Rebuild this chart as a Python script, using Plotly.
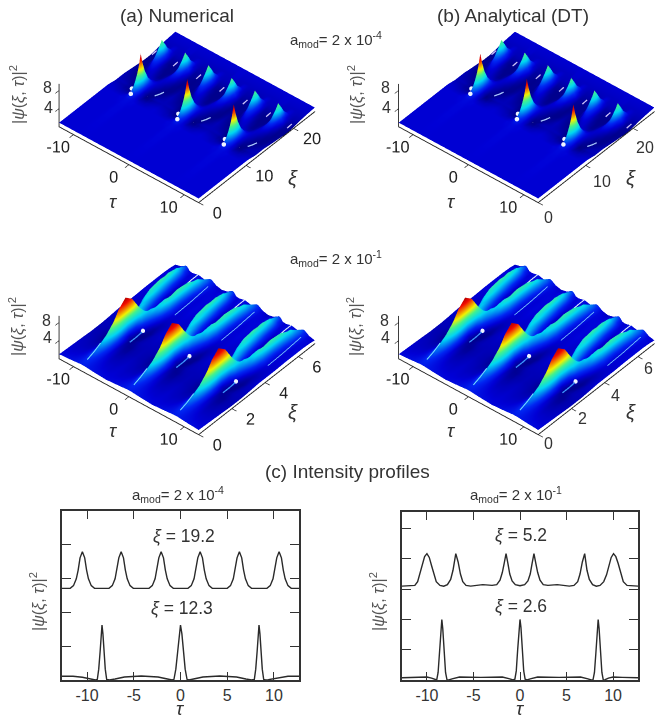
import plotly.graph_objects as go

W, H = 657, 719

# ---------- data ----------
lattice_centres = [-8.4, 0.0, 8.4]
cell_d = [0, .2, .4, .7, 1.1, 1.6, 1.85, 2.1, 2.35, 2.6, 3.2, 4.2]

xi_top = [0, 8, 9.5, 10.3, 10.9, 11.4, 11.9, 12.3, 12.7, 13.2, 13.8, 14.5, 15.3, 16.2, 17.2, 18, 18.6, 19.2, 19.8, 20.4, 21.2, 22.5, 24.5]
cell_top = [
    [.9, .9, .9, .9, .9, .9, .9, .9, .9, .9, .9, .9],
    [1.0, 1.0, 1.0, .95, .9, .9, .9, .9, .9, .9, .9, .9],
    [1.1, 1.1, 1.05, 1, 1, .9, .9, .9, .9, .9, .9, .9],
    [1.6, 1.5, 1.3, 1, .8, .7, .7, .7, .7, .7, .8, .9],
    [2.6, 2.3, 1.7, .9, .5, .5, .5, .5, .6, .6, .7, .8],
    [4.2, 3.5, 2.3, .9, .3, .3, .3, .4, .4, .5, .6, .7],
    [6.4, 5, 2.9, .8, .1, .1, .2, .3, .3, .4, .5, .6],
    [8.8, 6.6, 3.3, .7, 0, .1, .2, .3, .4, .5, .6, .6],
    [6.4, 5, 2.9, .9, .1, .1, .1, .2, .3, .4, .5, .6],
    [4.2, 3.5, 2.4, 1, .3, .1, .1, .1, .2, .3, .4, .6],
    [2.4, 2.1, 1.7, 1.1, .5, .2, .1, .1, .1, .2, .3, .6],
    [1.2, 1.1, 1, 1, .7, .4, .2, .1, .1, .1, .2, .5],
    [.5, .5, .6, .7, .8, .6, .4, .3, .2, .1, .1, .4],
    [.2, .2, .3, .5, .8, .9, .8, .6, .4, .2, .1, .3],
    [.1, .1, .2, .3, .7, 1.3, 1.4, 1.3, 1, .5, .1, .2],
    [.1, .1, .1, .2, .5, 1.6, 2.1, 2.4, 1.9, 1, .2, .1],
    [.1, .1, .1, .2, .4, 1.8, 2.9, 3.6, 2.8, 1.4, .2, .1],
    [.1, .1, .1, .1, .3, 1.9, 3.7, 4.8, 3.7, 1.9, .3, .1],
    [.2, .2, .2, .2, .3, 1.5, 2.8, 3.5, 2.8, 1.4, .3, .2],
    [.4, .4, .4, .4, .4, 1, 1.6, 2.1, 1.6, .9, .4, .3],
    [.6, .6, .6, .6, .6, .7, .9, 1, .9, .7, .5, .5],
    [.8, .8, .8, .7, .7, .7, .7, .7, .7, .7, .7, .7],
    [.9, .9, .9, .9, .9, .9, .9, .9, .9, .9, .9, .9],
]

xi_bot = [0, .5, 1, 1.5, 1.9, 2.2, 2.6, 3, 3.3, 3.6, 3.9, 4.2, 4.6, 5.2, 5.8, 6.3, 6.7, 7]
cell_bot = [
    [1.4, 1.4, 1.4, 1.35, 1.3, 1.25, 1.2, 1.2, 1.15, 1.15, 1.1, 1.0],
    [1.8, 1.75, 1.6, 1.4, 1.2, 1.05, 1, .95, .9, .9, .85, .9],
    [2.5, 2.35, 2.05, 1.6, 1.1, .85, .75, .7, .7, .7, .7, .8],
    [3.9, 3.5, 2.9, 1.9, .9, .6, .5, .5, .5, .5, .6, .7],
    [5.6, 5, 3.8, 2, .6, .35, .3, .3, .3, .4, .5, .6],
    [7.4, 6.2, 4, 1.6, .4, .2, .2, .2, .25, .35, .5, .6],
    [8.8, 6.4, 3.2, .7, .1, .15, .25, .35, .4, .5, .6, .6],
    [7.4, 6, 3.8, 1.6, .3, .1, .1, .15, .25, .4, .6, .7],
    [5.2, 4.8, 4.1, 3, 1.5, .3, .2, .15, .2, .3, .6, .8],
    [3.2, 3.3, 3.3, 3.2, 2.3, 1, .5, .3, .3, .4, .6, .9],
    [1.8, 2, 2.4, 3.1, 3.1, 1.9, 1.2, .8, .5, .5, .6, .9],
    [1, 1.2, 1.6, 2.6, 3.4, 3, 2.1, 1.3, .9, .7, .7, .9],
    [.5, .6, 1, 1.8, 3.5, 3.9, 3, 2, 1.4, 1, .8, .9],
    [.5, .5, .6, .9, 2.6, 4.3, 3.6, 2.1, 1.3, 1, .9, 1],
    [.9, .85, .7, .7, 1.6, 4, 3.9, 2.6, 1.6, 1.2, .9, 1],
    [1.1, 1, .9, .8, 1.2, 3, 3.5, 3.1, 2.2, 1.5, 1, 1],
    [1.2, 1.15, 1.05, .95, .9, 1.6, 2.3, 2.5, 2.2, 1.7, 1.1, .9],
    [1.2, 1.15, 1.1, 1, .9, 1, 1.4, 1.7, 1.7, 1.5, 1, .7],
]

# bright glints seen on the surfaces: (tau offset from a lattice centre, xi, z)
glint_top_dots = [(0, 10.2, 1.7), (-1.35, 12, .5)]
glint_top_arc = [(2.0, 12.9, .35), (2.3, 13.6, .35), (2.5, 14.3, .35)]
glint_top_mid_tau = [-12.2, -8.4, -4.2, 0, 4.2, 8.4, 12.2]
glint_top_mid_xi = [19.1, 19.6, 20.1]
glint_top_mid_z = [.5, .55, .6]
glint_bot_dots = [(1.37, 3.18, .75)]
glint_bot_streak = [(1.37, 2.4, .45), (1.37, 2.8, .45), (1.37, 3.18, .6)]
glint_bot_foot = [(0, .3, 1.75), (0, .7, 2.3), (0, 1.1, 3.1)]
glint_bot_far = [(0, 6.2, 1.25), (0, 6.6, 1.35), (0, 7, 1.35)]
glint_bot_edge = [(2.9, 4.6, 1.15), (2.9, 5.5, 1.3), (2.9, 6.6, 1.7)]

tau_l_up = [-12.7,-11.8,-11.45,-11.15,-10.95,-10.75,-10.5,-10.25,-10.05,-9.85,-9.55,-9.2,-7.65,-7.3,-7.0,-6.8,-6.6,-6.35,-6.1,-5.9,-5.7,-5.4,-5.05,-3.37,-3.02,-2.72,-2.52,-2.32,-2.07,-1.82,-1.62,-1.42,-1.12,-.77,.8,1.15,1.45,1.65,1.85,2.1,2.35,2.55,2.75,3.05,3.4,5,5.35,5.65,5.85,6.05,6.3,6.55,6.75,6.95,7.25,7.6,9.25,9.6,9.9,10.1,10.3,10.55,10.8,11,11.2,11.5,11.85,12.7]
val_l_up = [13.5,13.5,13.9,14.9,16.2,18,18.9,18,16.2,14.9,13.9,13.5,13.5,13.9,14.9,16.2,18,18.9,18,16.2,14.9,13.9,13.5,13.5,13.9,14.9,16.2,18,18.9,18,16.2,14.9,13.9,13.5,13.5,13.9,14.9,16.2,18,18.9,18,16.2,14.9,13.9,13.5,13.5,13.9,14.9,16.2,18,18.9,18,16.2,14.9,13.9,13.5,13.5,13.9,14.9,16.2,18,18.9,18,16.2,14.9,13.9,13.5,13.5]
tau_l_lo = [-12.7,-11.5,-10.5,-9.8,-9.4,-9.1,-8.9,-8.75,-8.6,-8.5,-8.4,-8.3,-8.2,-8.05,-7.9,-7.6,-7,-6,-4.2,-2.4,-1.4,-.9,-.7,-.5,-.3,-.15,0,.15,.3,.5,.7,.9,1.4,2.4,4.2,6,7,7.6,7.9,8.05,8.2,8.3,8.4,8.5,8.6,8.75,8.9,9.1,9.4,9.8,10.5,11.5,12.7]
val_l_lo = [.55,.55,.4,.15,.05,0,.1,1.6,4.2,6.8,8.1,6.8,4.2,1.6,.1,0,.15,.45,.6,.45,.15,0,.1,1.6,4.2,6.8,8.1,6.8,4.2,1.6,.1,0,.15,.45,.6,.45,.15,0,.1,1.6,4.2,6.8,8.1,6.8,4.2,1.6,.1,0,.05,.15,.4,.55,.55]

tau_r_up = [-12.7,-11.8,-11.3,-11,-10.75,-10.5,-10.25,-10,-9.75,-9.5,-9.25,-9,-8.6,-8.2,-7.8,-7.45,-7.2,-6.9,-6.65,-6.4,-6.15,-5.8,-5.3,-4,-3,-2.5,-2.15,-1.9,-1.7,-1.5,-1.3,-1.1,-.85,-.5,0,.5,.85,1.1,1.3,1.5,1.7,1.9,2.15,2.5,3,4,5.3,5.8,6.2,6.45,6.7,6.95,7.2,7.45,7.8,8.2,8.6,9,9.3,9.55,9.8,10.05,10.3,10.55,10.8,11.1,11.5,12.7]
val_r_up = [12.4,12.4,12.5,13,14.2,15.4,16.3,16.7,16.2,15.1,13.9,13,12.5,12.4,12.6,13.3,14.5,16.7,15.6,14,13,12.5,12.4,12.6,12.5,12.6,13.2,14.2,15.4,16.7,15.4,14,13.1,12.6,12.45,12.6,13.1,14,15.4,16.7,15.4,14.2,13.2,12.6,12.5,12.6,12.4,12.5,13,14,15.6,16.7,14.5,13.3,12.6,12.4,12.5,13,13.9,15.1,16.2,16.7,16.3,15.4,14.2,13,12.5,12.4]
tau_r_lo = [-12.7,-11,-10,-9.5,-9.15,-8.95,-8.8,-8.65,-8.5,-8.4,-8.3,-8.15,-8,-7.85,-7.65,-7.3,-6.5,-4.2,-1.9,-1.1,-.75,-.55,-.4,-.25,-.1,0,.1,.25,.4,.55,.75,1.1,1.9,4.2,6.5,7.3,7.65,7.85,8,8.15,8.3,8.4,8.5,8.65,8.8,8.95,9.15,9.5,10,11,12.7]
val_r_lo = [.3,.35,.4,.25,.05,0,1,3.5,6.8,8,6.8,3.5,1,.05,0,.15,.4,.35,.4,.15,0,.1,1.2,4,7,8,7,4,1.2,.1,0,.15,.4,.35,.4,.15,0,.05,1,3.5,6.8,8,6.8,3.5,1,0,.05,.25,.4,.35,.3]

tick_tau3d = [-10, 0, 10]
tick_xi_top = [0, 10, 20]
tick_xi_bot = [0, 2, 4, 6]
tick_z = [4, 8]
tick_tau2d = [-10, -5, 0, 5, 10]
tick_tau2d_text = ["-10", "-5", "0", "5", "10"]
tick_tau3d_text = ["-10", "0", "10"]
labels = {"a": "(a) Numerical", "b": "(b) Analytical (DT)", "c": "(c) Intensity profiles"}
ylab = "|<i>ψ</i>(<i>ξ</i>, <i>τ</i>)|<sup>2</sup>"

# ---------- lattice -> grid ----------
def grid(cell):
    taus = sorted({round(c + s * d, 3) for c in lattice_centres for d in cell_d for s in (-1, 1)})
    rows = []
    for r in cell:
        row = []
        for t in taus:
            c = min(lattice_centres, key=lambda q: abs(t - q))
            row.append(r[cell_d.index(round(abs(round(t - c, 3)), 3))])
        rows.append(row)
    return taus, rows

FONT = "Liberation Sans"
fig = go.Figure()
E = 1.18
LIFT = 0.18
SCALE = 1.69
JET = [[0, "rgb(0,0,140)"], [.1, "rgb(0,0,225)"], [.18, "rgb(0,40,255)"], [.36, "rgb(0,225,255)"],
       [.5, "rgb(70,255,150)"], [.63, "rgb(255,255,0)"], [.85, "rgb(255,10,0)"], [1, "rgb(170,0,0)"]]

def scene(dom, xi_max, xi_ticks, hs=0.0, zmax=9.4):
    ax = dict(showbackground=False, showgrid=False, zeroline=False, showspikes=False, showline=True,
              linecolor="#222", linewidth=2, ticks="outside", tickcolor="#222", ticklen=6, tickwidth=1.5,
              tickfont=dict(family=FONT, size=14, color="#222"), title=dict(text=""), tickangle=0)
    cx, cy = -0.768 * hs, -0.64 * hs
    return dict(domain=dict(x=[dom[0] / W, dom[1] / W], y=[1 - dom[3] / H, 1 - dom[2] / H]),
                xaxis=dict(ax, range=[-12.6, 12.6], tickvals=tick_tau3d, ticktext=tick_tau3d_text),
                yaxis=dict(ax, range=[0, xi_max], tickvals=xi_ticks, showticklabels=(hs == 0)),
                zaxis=dict(ax, range=[0, zmax], tickvals=tick_z, showticklabels=False),
                aspectmode="manual", aspectratio=dict(x=SCALE, y=SCALE, z=0.31 * SCALE),
                camera=dict(eye=dict(x=0.485 * E + cx, y=-0.582 * E + cy, z=0.652 * E - LIFT),
                            up=dict(x=0, y=0, z=1), center=dict(x=cx, y=cy, z=-LIFT),
                            projection=dict(type="orthographic")),
                bgcolor="rgba(0,0,0,0)")

def polyline(pts, centres=lattice_centres):
    xs, ys, zs = [], [], []
    for c in centres:
        for d, xi, z in pts:
            xs.append(c + d); ys.append(xi); zs.append(z)
        xs.append(None); ys.append(None); zs.append(None)
    return xs, ys, zs

def add_glints(name, dots, lines):
    xs, ys, zs = polyline(dots)
    fig.add_scatter3d(x=xs, y=ys, z=zs, scene=name, mode="markers", hoverinfo="skip",
                      marker=dict(size=2.6, color="rgb(240,245,255)", line=dict(width=0)))
    for pts, col, width in lines:
        xs, ys, zs = pts
        fig.add_scatter3d(x=xs, y=ys, z=zs, scene=name, mode="lines", hoverinfo="skip",
                          line=dict(color=col, width=width))

def top_lines():
    mx, my, mz = [], [], []
    for m in glint_top_mid_tau:
        mx += [m] * 3 + [None]; my += glint_top_mid_xi + [None]; mz += glint_top_mid_z + [None]
    return [(polyline(glint_top_arc), "rgb(170,200,255)", 2.5), ((mx, my, mz), "rgb(205,195,250)", 2.5)]

def bot_lines():
    return [(polyline(glint_bot_streak), "rgb(60,150,255)", 2.5), (polyline(glint_bot_foot), "rgb(120,225,255)", 2),
            (polyline(glint_bot_far), "rgb(235,245,255)", 2), (polyline(glint_bot_edge), "rgb(130,215,255)", 1.5)]

HS = 0.21
panels = [("scene", cell_top, xi_top, (33.5, 339.5, 4.5, 219.5), 24.5, tick_xi_top, 0),
          ("scene2", cell_top, xi_top, (351, 657, 4.5, 219.5), 24.5, tick_xi_top, HS),
          ("scene3", cell_bot, xi_bot, (33.5, 339.5, 237, 452), 7, tick_xi_bot, 0),
          ("scene4", cell_bot, xi_bot, (351, 657, 237, 452), 7, tick_xi_bot, HS)]
layout_scenes = {}
for name, cell, xi, dom, xmax, ticks, hs in panels:
    taus, z = grid(cell)
    fig.add_surface(x=taus, y=xi, z=z, scene=name, colorscale=JET, cmin=0, cmax=9, showscale=False,
                    lighting=dict(ambient=.95, diffuse=.35, specular=.3, roughness=.3, fresnel=.1),
                    lightposition=dict(x=-30000, y=-60000, z=90000))
    if cell is cell_top:
        add_glints(name, glint_top_dots, top_lines())
    else:
        add_glints(name, glint_bot_dots, bot_lines())
    layout_scenes[name] = scene(dom, xmax, ticks, hs)
fig.update_layout(**layout_scenes)

# ---------- 2-D profiles ----------
for xa, ya, xs, ys in [("x", "y", tau_l_up, val_l_up), ("x", "y", tau_l_lo, val_l_lo),
                       ("x2", "y2", tau_r_up, val_r_up), ("x2", "y2", tau_r_lo, val_r_lo)]:
    fig.add_scatter(x=xs, y=ys, xaxis=xa, yaxis=ya, mode="lines", showlegend=False,
                    line=dict(color="#2a2a2a", width=1.4))

def x2d(dom, anchor):
    return dict(domain=[dom[0] / W, dom[1] / W], range=[-12.68, 12.68], tickvals=tick_tau2d, ticktext=tick_tau2d_text,
                ticks="inside", ticklen=8, anchor=anchor,
                tickwidth=1.3, tickcolor="#333", showline=True, linewidth=1.6, linecolor="#333", mirror="ticks",
                showgrid=False, zeroline=False, tickfont=dict(family=FONT, size=16, color="#333"))

def y2d(dom, top, dt, anchor):
    return dict(domain=[1 - dom[1] / H, 1 - dom[0] / H], range=[0, top], dtick=dt, tick0=0, ticks="inside", ticklen=9,
                anchor=anchor,
                tickwidth=1.3, tickcolor="#333", showline=True, linewidth=1.6, linecolor="#333", mirror="ticks",
                showgrid=False, zeroline=False, showticklabels=False)

fig.update_layout(xaxis=x2d((62, 299), "y"), yaxis=y2d((511, 680), 24.9, 5, "x"),
                  xaxis2=x2d((402, 638), "y2"), yaxis2=y2d((512, 680), 22.2, 4, "x2"))

# ---------- text ----------
def note(x, y, text, size=15, angle=0, color="#333"):
    fig.add_annotation(x=x / W, y=1 - y / H, xref="paper", yref="paper", text=text, showarrow=False, textangle=angle,
                       font=dict(family=FONT, size=size, color=color), xanchor="center", yanchor="middle")

note(177, 16, labels["a"], 19)
note(513, 16, labels["b"], 19)
note(347, 471, labels["c"], 19)
amod4 = "a<sub>mod</sub>= 2 x 10<sup>-4</sup>"
amod1 = "a<sub>mod</sub>= 2 x 10<sup>-1</sup>"
note(336, 40, amod4, 15)
note(336, 258, amod1, 15)
note(178, 494, amod4, 15)
note(516, 494, amod1, 15)
note(184, 536, "<i>ξ</i> = 19.2", 17.5)
note(182, 608, "<i>ξ</i> = 12.3", 17.5)
note(521, 535, "<i>ξ</i> = 5.2", 17.5)
note(521, 606, "<i>ξ</i> = 2.6", 17.5)
note(37, 602, ylab, 16, -90, "#555")
note(377, 602, ylab, 16, -90, "#555")
note(180, 708, "<i>τ</i>", 19)
note(520, 708, "<i>τ</i>", 19)
for dx in (0, 338):
    note(17 + dx, 95, ylab, 16, -90, "#555")
    note(17 + dx, 327, ylab, 16, -90, "#555")
    note(113 + dx, 202, "<i>τ</i>", 19)
    note(113 + dx, 430, "<i>τ</i>", 19)
    note(293 + dx, 178, "<i>ξ</i>", 20)
    note(293 + dx, 412, "<i>ξ</i>", 20)
    note(47 + dx, 87, "8", 16)
    note(48 + dx, 107, "4", 16)
    note(46 + dx, 320, "8", 16)
    note(47 + dx, 337, "4", 16)
for x, y, t in [(548, 217, "0"), (602, 182, "10"), (645, 147, "20"),
                (548, 443, "0"), (582, 418, "2"), (615, 395, "4"), (648, 368, "6")]:
    note(x, y, t, 16)

fig.update_layout(width=W, height=H, margin=dict(l=0, r=0, t=0, b=0), paper_bgcolor="white", plot_bgcolor="white",
                  showlegend=False)
fig.write_html("out.html", post_script="document.body.style.margin='0';", config=dict(displayModeBar=False))
